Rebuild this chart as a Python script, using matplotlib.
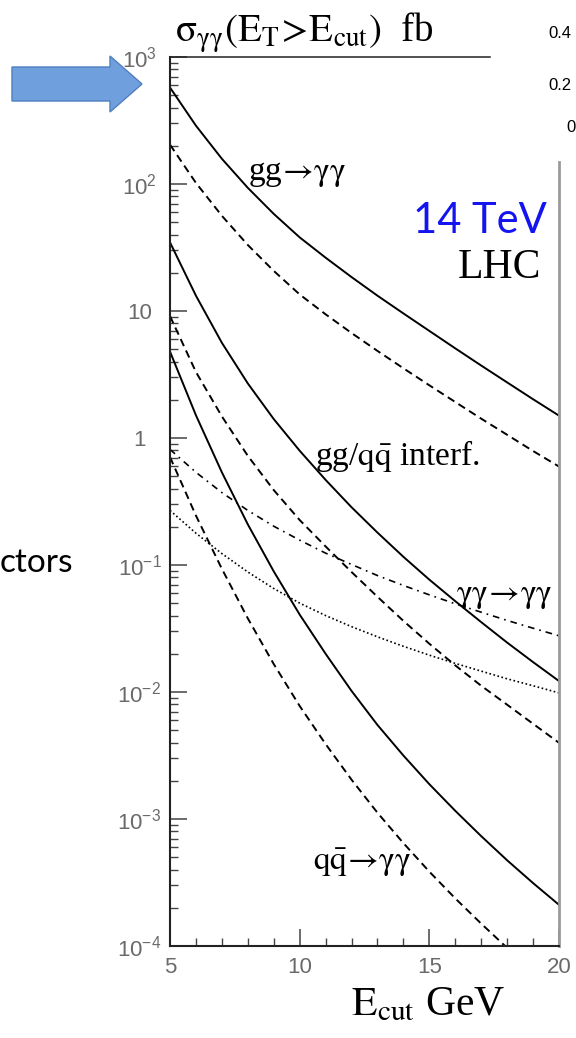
# -*- coding: utf-8 -*-
import numpy as np
import matplotlib
matplotlib.use('Agg')
import matplotlib.pyplot as plt
from matplotlib.patches import Polygon
from matplotlib.ticker import FixedLocator, FixedFormatter, LogLocator, NullFormatter

plt.rcParams['mathtext.fontset'] = 'custom'
plt.rcParams['mathtext.rm'] = 'Liberation Sans'
plt.rcParams['mathtext.it'] = 'Liberation Sans:italic'

# -- data ---------------------------------------------------------
e_cut = [5, 6, 7, 8, 9, 10, 11, 12, 13, 14, 15, 16, 17, 18, 19, 20]

gg_box = [575, 288, 158, 93.3, 58.2, 38.0, 26.3, 18.5, 13.2, 9.57, 6.97, 5.08,
          3.72, 2.74, 2.02, 1.50]
gg_box_dash = [204, 102, 56.2, 33.1, 20.7, 13.5, 9.42, 6.71, 4.85, 3.54, 2.60, 1.92,
               1.42, 1.06, 0.79, 0.596]
interf = [34.7, 13.2, 5.62, 2.69, 1.41, 0.794, 0.468, 0.285, 0.18, 0.116, 0.0767,
          0.0519, 0.0355, 0.0245, 0.0172, 0.0122]
interf_dash = [9.12, 3.31, 1.48, 0.724, 0.389, 0.226, 0.14, 0.0881, 0.0562, 0.0363,
               0.024, 0.0162, 0.0112, 0.00794, 0.00562, 0.00398]
qq_born = [4.79, 1.51, 0.537, 0.209, 0.0891, 0.0407, 0.02, 0.0102, 0.0055, 0.00316,
           0.00188, 0.00116, 0.000733, 0.000473, 0.000313, 0.000211]
qq_born_dash = [0.708, 0.245, 0.0933, 0.038, 0.0166, 0.00776, 0.00389, 0.00204,
                0.00112, 0.000646, 0.000385, 0.000237, 0.00015, 0.0000966,
                0.0000638, 0.0000427]
photon_photon = [0.813, 0.537, 0.372, 0.269, 0.202, 0.157, 0.124, 0.101, 0.0826,
                 0.069, 0.0582, 0.0495, 0.0425, 0.0366, 0.0318, 0.0277]
dotted_curve = [0.269, 0.178, 0.123, 0.0881, 0.0653, 0.0501, 0.04, 0.0327, 0.0272,
                0.0229, 0.0195, 0.0168, 0.0146, 0.0127, 0.0112, 0.00984]

y_ticks = [1e3, 1e2, 10, 1, 1e-1, 1e-2, 1e-3, 1e-4]
y_ticklabels = ['10$^{3}$', '10$^{2}$', '10', '1', '10$^{-1}$', '10$^{-2}$', '10$^{-3}$', '10$^{-4}$']
x_ticks = [5, 10, 15, 20]

# -- figure -------------------------------------------------------
W, H = 576, 1038
fig = plt.figure(figsize=(W / 100, H / 100), dpi=100)
ax = fig.add_axes([170 / W, 92 / H, 389 / W, 889 / H])

lw = 1.4
dash = (0, (4, 2.5))
ax.plot(e_cut, gg_box, '-', color='black', lw=lw)
ax.plot(e_cut, gg_box_dash, color='black', lw=lw, linestyle=dash)
ax.plot(e_cut, interf, '-', color='black', lw=lw)
ax.plot(e_cut, interf_dash, color='black', lw=lw, linestyle=dash)
ax.plot(e_cut, qq_born, '-', color='black', lw=lw)
ax.plot(e_cut, qq_born_dash, color='black', lw=lw, linestyle=dash)
ax.plot(e_cut, photon_photon, color='black', lw=1.2, linestyle=(0, (4, 3, 1, 3)))
ax.plot(e_cut, dotted_curve, color='black', lw=1.2, linestyle=(0, (1, 1.5)))

ax.set_yscale('log')
ax.set_xlim(5, 20)
ax.set_ylim(1e-4, 1e3)

# axes frame
for side in ['top', 'right']:
    ax.spines[side].set_visible(False)
for side in ['left', 'bottom']:
    ax.spines[side].set_linewidth(1.5)
    ax.spines[side].set_color('#222222')
ax.plot([0, (490 - 170) / 389], [1, 1], transform=ax.transAxes, color='#222222',
        lw=1.1, clip_on=False)
ax.plot([1, 1], [0, (946 - 162) / 889], transform=ax.transAxes, color='#9a9a9a',
        lw=2.0, clip_on=False)

# ticks
ax.yaxis.set_major_locator(FixedLocator(y_ticks))
ax.yaxis.set_major_formatter(FixedFormatter(y_ticklabels))
ax.yaxis.set_minor_locator(LogLocator(base=10, subs=np.arange(2, 10)))
ax.yaxis.set_minor_formatter(NullFormatter())
ax.set_xticks(x_ticks)
ax.set_xticks(range(5, 21), minor=True)
ax.tick_params(axis='both', which='major', direction='in', length=12, width=1.1,
               color='#444444', labelcolor='#6a6a6a', labelsize=16)
ax.tick_params(axis='both', which='minor', direction='in', length=6, width=1.0,
               color='#444444')
ax.tick_params(axis='y', which='major', pad=22)
ax.tick_params(axis='x', which='major', pad=8)
for lab in ax.get_yticklabels():
    lab.set_horizontalalignment('center')
    lab.set_fontfamily('Liberation Sans')
for lab in ax.get_xticklabels():
    lab.set_fontfamily('Liberation Sans')

# curve labels (positions given in picture pixels)
serif = ['Liberation Serif', 'DejaVu Serif']


def ypx(py):
    return 10 ** (3 - (py - 57) / 127.0)


def xpx(px):
    return 5 + (px - 170) / 25.93


lab_kw = dict(family=serif, math_fontfamily='stix', fontsize=24, va='baseline')
ax.text(xpx(248), ypx(180), r'gg$\!\rightarrow\!\mathrm{\gamma\gamma}$', ha='left', **lab_kw)
ax.text(xpx(315), ypx(465), r'gg/$\mathrm{q\bar{q}}$ interf.', ha='left', **lab_kw)
ax.text(xpx(553), ypx(602), r'$\mathrm{\gamma\gamma\!\rightarrow\!\gamma\gamma}$',
        ha='right', **lab_kw)
ax.text(xpx(313), ypx(870), r'$\mathrm{q\bar{q}\!\rightarrow\!\gamma\gamma}$', ha='left',
        **lab_kw)
ax.text(xpx(547), ypx(221), '14 TeV', family='Lato', fontsize=30, color='#1414f0',
        va='center', ha='right')
ax.text(xpx(541), ypx(268), 'LHC', family=serif, fontsize=30, va='center', ha='right')

# title and x label
fig.text(175 / W, 1 - 42 / H, r'$\mathrm{\sigma_{\gamma\gamma}(E_T\!>\!E_{cut})}$  fb',
         family=serif, math_fontfamily='stix', fontsize=28, va='baseline', ha='left')
fig.text(351 / W, 1 - 1015 / H, r'$\mathrm{E_{cut}}$ GeV', family=serif,
         math_fontfamily='stix', fontsize=30, va='baseline', ha='left')

# pieces of the slide around the figure
fig.text(0, 1 - 563 / H, 'ctors', family='Lato', fontsize=24, va='center', ha='left')
for txt, px, py in [('0.4', 548, 33), ('0.2', 548, 85), ('0', 566, 127)]:
    fig.text(px / W, 1 - py / H, txt, family='Liberation Sans', fontsize=12,
             va='center', ha='left')

arrow_px = [(12, 67), (110, 67), (110, 56), (142, 84), (110, 112), (110, 101), (12, 101)]
arrow_in = [(x / 100, (H - y) / 100) for x, y in arrow_px]
fig.patches.append(Polygon(arrow_in, closed=True, transform=fig.dpi_scale_trans,
                           facecolor='#6f9fdc', edgecolor='#4f7fbf', lw=1.0))

fig.savefig('out.png', dpi=100)
